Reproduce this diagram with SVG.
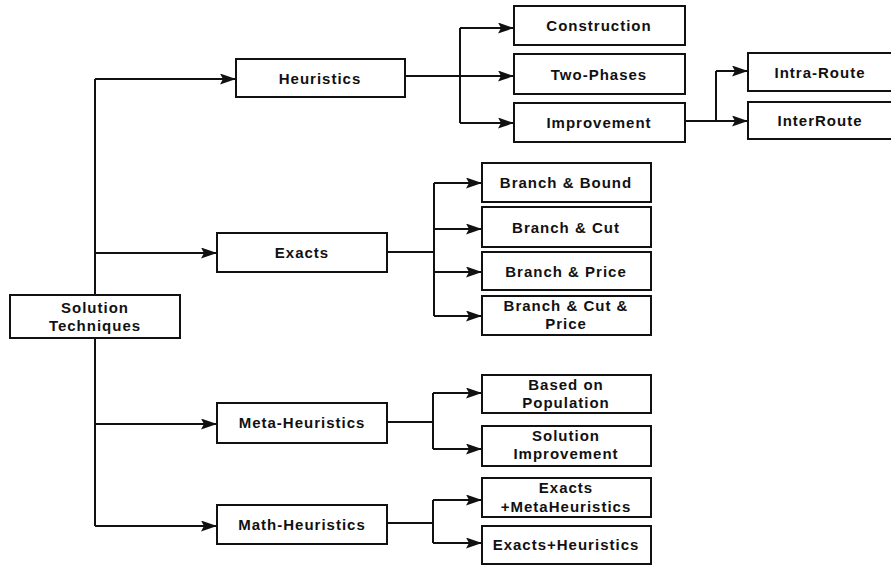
<svg xmlns="http://www.w3.org/2000/svg" width="891" height="566" viewBox="0 0 891 566">
<style>
.box{fill:#fff;stroke:#111;stroke-width:2}
.t{font-family:"Liberation Sans",Arial,sans-serif;font-weight:bold;font-size:15px;letter-spacing:1px;fill:#111;text-anchor:middle}
.ln{fill:none;stroke:#111;stroke-width:2}
</style>
<defs>
<marker id="ah" markerUnits="userSpaceOnUse" markerWidth="17" markerHeight="12" refX="16" refY="5.5" orient="auto">
<path d="M0,0 L16,5.5 L0,11 L3,5.5 z" fill="#111"/>
</marker>
</defs>
<rect width="891" height="566" fill="#fff"/>
<g id="connectors">
<path class="ln" d="M95,79 V526"/>
<path class="ln" d="M95,79 H236" marker-end="url(#ah)"/>
<path class="ln" d="M95,253 H217" marker-end="url(#ah)"/>
<path class="ln" d="M95,424 H217" marker-end="url(#ah)"/>
<path class="ln" d="M95,526 H217" marker-end="url(#ah)"/>
<path class="ln" d="M405,76 H514" marker-end="url(#ah)"/>
<path class="ln" d="M460,28 V123"/>
<path class="ln" d="M460,28 H514" marker-end="url(#ah)"/>
<path class="ln" d="M460,123 H514" marker-end="url(#ah)"/>
<path class="ln" d="M685,121 H748" marker-end="url(#ah)"/>
<path class="ln" d="M716,71 V121"/>
<path class="ln" d="M716,71 H748" marker-end="url(#ah)"/>
<path class="ln" d="M387,252 H434"/>
<path class="ln" d="M434,183 V316"/>
<path class="ln" d="M434,183 H482" marker-end="url(#ah)"/>
<path class="ln" d="M434,229 H482" marker-end="url(#ah)"/>
<path class="ln" d="M434,272 H482" marker-end="url(#ah)"/>
<path class="ln" d="M434,316 H482" marker-end="url(#ah)"/>
<path class="ln" d="M387,422 H433"/>
<path class="ln" d="M433,393 V449"/>
<path class="ln" d="M433,393 H482" marker-end="url(#ah)"/>
<path class="ln" d="M433,449 H482" marker-end="url(#ah)"/>
<path class="ln" d="M387,523 H433"/>
<path class="ln" d="M433,500 V543"/>
<path class="ln" d="M433,500 H482" marker-end="url(#ah)"/>
<path class="ln" d="M433,543 H482" marker-end="url(#ah)"/>
</g>
<g id="solution-techniques"><rect class="box" x="10" y="295" width="170" height="43"/><text class="t" x="95" y="313">Solution</text><text class="t" x="95" y="331">Techniques</text></g>
<g id="heuristics"><rect class="box" x="236" y="59" width="169" height="38"/><text class="t" x="320" y="84">Heuristics</text></g>
<g id="construction"><rect class="box" x="514" y="6" width="171" height="39"/><text class="t" x="599" y="31">Construction</text></g>
<g id="two-phases"><rect class="box" x="514" y="54" width="171" height="40"/><text class="t" x="599" y="80">Two-Phases</text></g>
<g id="improvement"><rect class="box" x="514" y="103" width="171" height="39"/><text class="t" x="599" y="128">Improvement</text></g>
<g id="intra-route"><rect class="box" x="748" y="53" width="150" height="38"/><text class="t" x="820" y="78">Intra-Route</text></g>
<g id="inter-route"><rect class="box" x="748" y="102" width="150" height="37"/><text class="t" x="820" y="126">InterRoute</text></g>
<g id="exacts"><rect class="box" x="217" y="233" width="170" height="39"/><text class="t" x="302" y="258">Exacts</text></g>
<g id="branch-bound"><rect class="box" x="482" y="163" width="169" height="39"/><text class="t" x="566" y="188">Branch &amp; Bound</text></g>
<g id="branch-cut"><rect class="box" x="482" y="207" width="169" height="40"/><text class="t" x="566" y="233">Branch &amp; Cut</text></g>
<g id="branch-price"><rect class="box" x="482" y="252" width="169" height="38"/><text class="t" x="566" y="277">Branch &amp; Price</text></g>
<g id="branch-cut-price"><rect class="box" x="482" y="296" width="169" height="39"/><text class="t" x="566" y="311">Branch &amp; Cut &amp;</text><text class="t" x="566" y="329">Price</text></g>
<g id="meta-heuristics"><rect class="box" x="217" y="403" width="170" height="40"/><text class="t" x="302" y="428">Meta-Heuristics</text></g>
<g id="based-population"><rect class="box" x="482" y="375" width="169" height="38"/><text class="t" x="566" y="390">Based on</text><text class="t" x="566" y="408">Population</text></g>
<g id="solution-improvement"><rect class="box" x="482" y="426" width="169" height="40"/><text class="t" x="566" y="441">Solution</text><text class="t" x="566" y="459">Improvement</text></g>
<g id="math-heuristics"><rect class="box" x="217" y="505" width="170" height="39"/><text class="t" x="302" y="530">Math-Heuristics</text></g>
<g id="exacts-metaheuristics"><rect class="box" x="482" y="478" width="169" height="39"/><text class="t" x="566" y="493">Exacts</text><text class="t" x="566" y="512">+MetaHeuristics</text></g>
<g id="exacts-heuristics"><rect class="box" x="482" y="526" width="169" height="38"/><text class="t" x="566" y="550">Exacts+Heuristics</text></g>
</svg>
